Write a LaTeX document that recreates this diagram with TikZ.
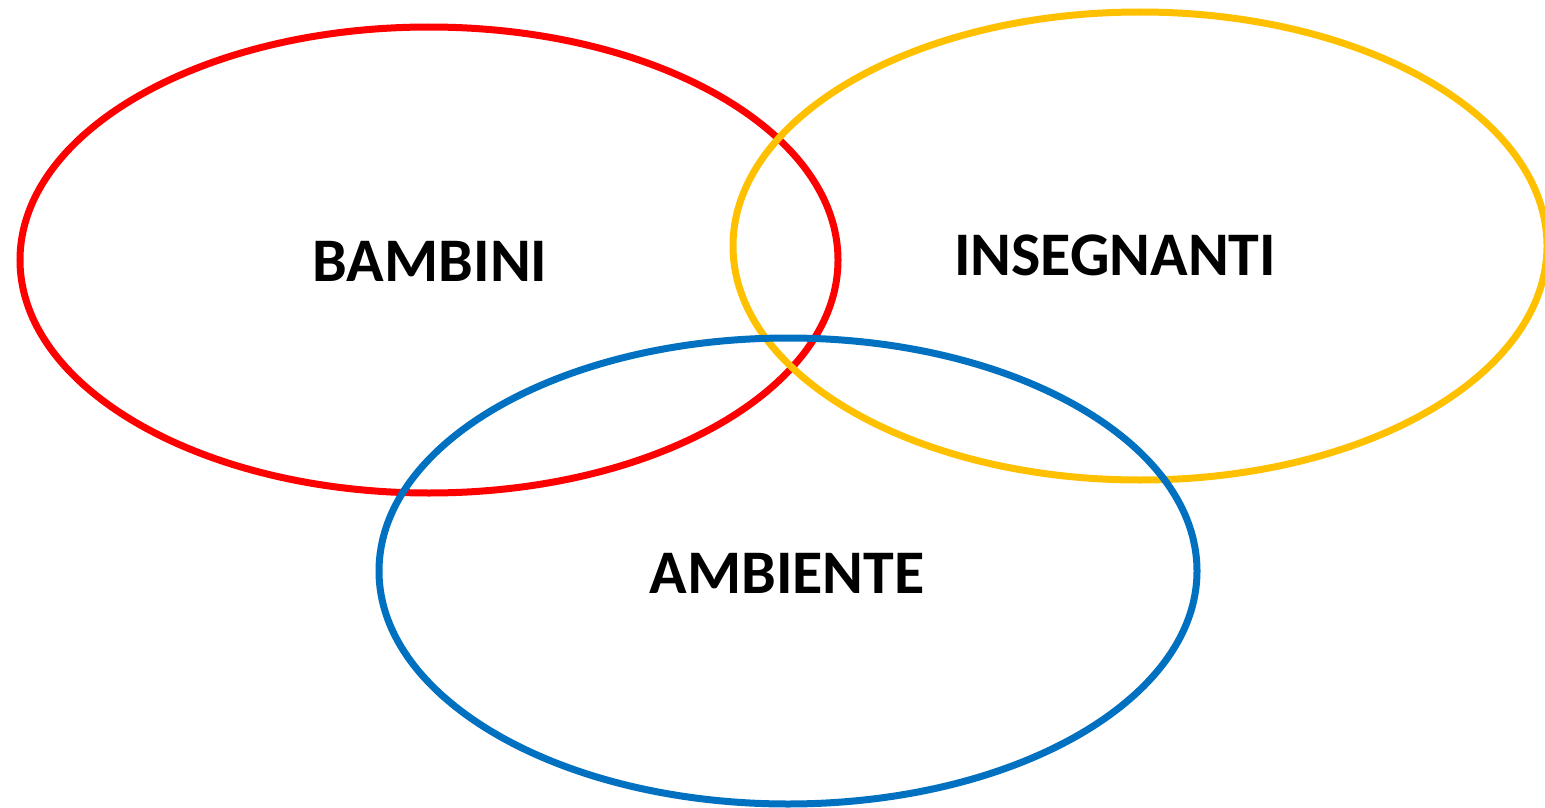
\documentclass[tikz,border=0pt]{standalone}
\usepackage{fontspec}
\setmainfont{Carlito}
\definecolor{vred}{RGB}{255,0,0}
\definecolor{vyellow}{RGB}{255,192,0}
\definecolor{vblue}{RGB}{0,112,192}
\begin{document}
\begin{tikzpicture}[x=1pt,y=-1pt,
  ring/.style={line width=7pt},
  lbl/.style={font=\fontsize{62}{62}\selectfont\bfseries, inner sep=0pt}]
\useasboundingbox (0,0) rectangle (1545,808);
\begin{scope}
\clip (0,0) rectangle (1545,808);
\draw[ring, vred] (429,260) ellipse [x radius=409, y radius=233];
\draw[ring, vyellow] (1140,246) ellipse [x radius=407, y radius=234];
\draw[ring, vblue] (788,571) ellipse [x radius=409, y radius=233];
\end{scope}
\node[lbl, anchor=base] (bambini) at (430,281) {BAMBINI};
\node[lbl, anchor=base] (insegnanti) at (1115,275) {INSEGNANTI};
\node[lbl, anchor=base] (ambiente) at (787,593) {AMBIENTE};
\end{tikzpicture}
\end{document}
